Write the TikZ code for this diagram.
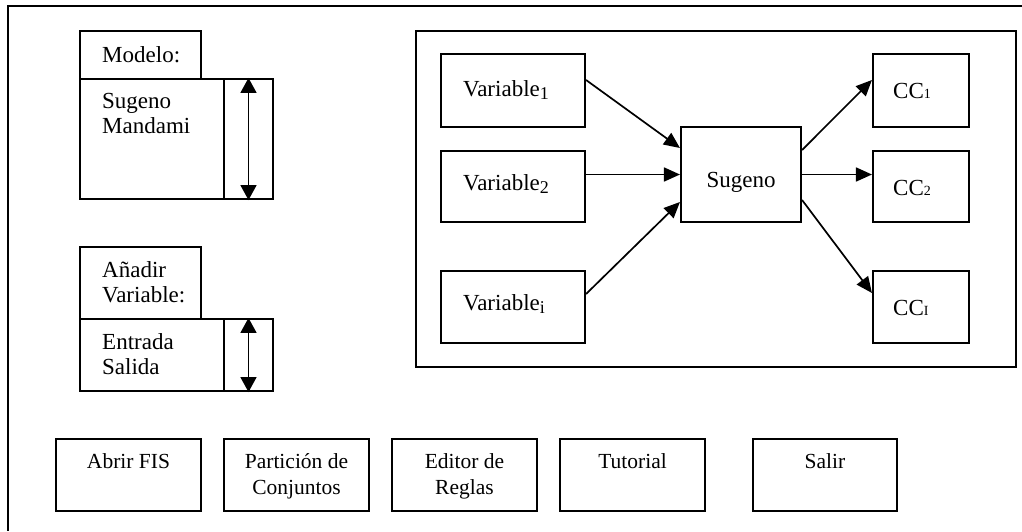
\documentclass[tikz,border=0pt]{standalone}
\usepackage{fontspec}
\setmainfont{Liberation Serif}
\usetikzlibrary{arrows.meta,fit,calc}

% stacked lines whose baseline is the first line
\newcommand\leftlines[1]{\vtop{\halign{##\hfil\cr#1\crcr}}}
\newcommand\centerlines[1]{\vtop{\halign{\hfil##\hfil\cr#1\crcr}}}
% lowered index for the variables, small index for the outputs
\newcommand\varidx[1]{\raisebox{-3.5pt}{\fontsize{18}{18}\selectfont #1}}
\newcommand\outidx[1]{{\fontsize{14}{14}\selectfont #1}}

\begin{document}
\begin{tikzpicture}[x=1pt,y=-1pt,
  box/.style={draw, line width=2.1pt, inner sep=0pt},
  txt/.style={inner sep=0pt, anchor=base west, font=\fontsize{23}{25}\selectfont},
  btntxt/.style={inner sep=0pt, anchor=base, font=\fontsize{21.5}{26}\selectfont},
  flow/.style={line width=1.7pt, -{Triangle[length=16pt,width=14pt]}},
  scroll/.style={line width=1.7pt, {Triangle[length=15pt,width=16pt]}-{Triangle[length=15pt,width=16pt]}},
  frame/.style={line width=2.1pt}
]
\useasboundingbox (0,0) rectangle (1022,531);

% outer window frame (runs off the page on the right and bottom)
\coordinate (frTR) at (1022,6);
\coordinate (frTL) at (8,6);
\coordinate (frBL) at (8,531);
\draw[frame] (frTR) -- (frTL) -- (frBL);

% model selector
\node[box, fit={(80,31) (201,79)}] (modlab) {};
\node[box, fit={(80,79) (273,199)}] (modlist) {};
\node[box, fit={(224,79) (273,199)}] (modbar) {};
\node[txt] (modlabt) at (102,62) {Modelo:};
\node[txt] (modlistt) at (102,108) {\leftlines{Sugeno\cr Mandami}};
\draw[scroll] (modbar.north) -- (modbar.south);

% variable selector
\node[box, fit={(80,247) (201,319)}] (varlab) {};
\node[box, fit={(80,319) (273,391)}] (varlist) {};
\node[box, fit={(224,319) (273,391)}] (varbar) {};
\node[txt] (varlabt) at (102,277) {\leftlines{Añadir\cr Variable:}};
\node[txt] (varlistt) at (102,349) {\leftlines{Entrada\cr Salida}};
\draw[scroll] (varbar.north) -- (varbar.south);

% system panel
\node[box, fit={(416,31) (1016,367)}] (panel) {};

\node[box, fit={(441,54) (585,127)}] (v1) {};
\node[box, fit={(441,151) (585,222)}] (v2) {};
\node[box, fit={(441,271) (585,343)}] (vi) {};
\node[txt] (v1t) at (463,96) {Variable\varidx{1}};
\node[txt] (v2t) at (463,190) {Variable\varidx{2}};
\node[txt] (vit) at (463,310) {Variable\varidx{i}};

\node[box, fit={(681,127) (801,222)}] (sug) {};
\node[txt, anchor=base] (sugt) at (741,187) {Sugeno};

\node[box, fit={(873,54) (969,127)}] (cc1) {};
\node[box, fit={(873,151) (969,222)}] (cc2) {};
\node[box, fit={(873,271) (969,343)}] (ccI) {};
\node[txt] (cc1t) at (893,98) {CC\outidx{1}};
\node[txt] (cc2t) at (893,195) {CC\outidx{2}};
\node[txt] (ccIt) at (893,315) {CC\outidx{I}};

% inputs into the inference block
\draw[flow] ([yshift=10.5pt]v1.east) -- ([yshift=26.5pt]sug.west);
\draw[flow] (sug.west -| v2.east) -- (sug.west);
\draw[flow] ([yshift=13pt]vi.east) -- ([yshift=-27.5pt]sug.west);

% outputs
\draw[flow] ([yshift=24.5pt]sug.east) -- ([yshift=10.5pt]cc1.west);
\draw[flow] (sug.east) -- (sug.east -| cc2.west);
\draw[flow] ([yshift=-25.5pt]sug.east) -- ([yshift=14pt]ccI.west);

% command buttons
\node[box, fit={(56,439) (201,511)}] (b1) {};
\node[box, fit={(224,439) (369,511)}] (b2) {};
\node[box, fit={(392,439) (537,511)}] (b3) {};
\node[box, fit={(560,439) (705,511)}] (b4) {};
\node[box, fit={(753,439) (897,511)}] (b5) {};
\node[btntxt] (b1t) at (b1.center |- 0,468) {Abrir FIS};
\node[btntxt] (b2t) at (b2.center |- 0,468) {\centerlines{Partición de\cr Conjuntos}};
\node[btntxt] (b3t) at (b3.center |- 0,468) {\centerlines{Editor de\cr Reglas}};
\node[btntxt] (b4t) at (b4.center |- 0,468) {Tutorial};
\node[btntxt] (b5t) at (b5.center |- 0,468) {Salir};
\end{tikzpicture}
\end{document}
